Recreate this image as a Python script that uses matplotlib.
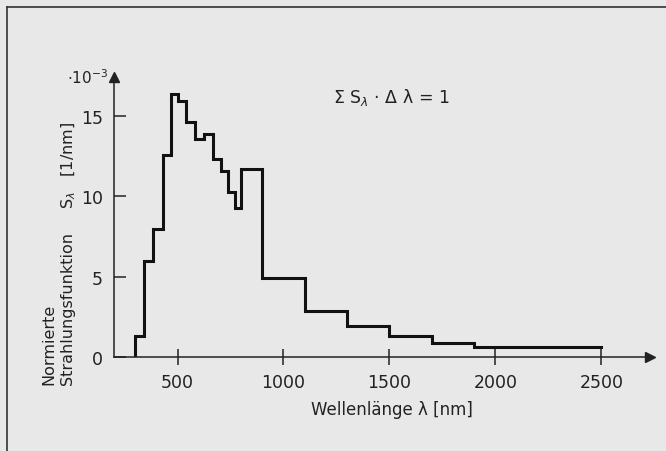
import matplotlib
matplotlib.use("Agg")
import matplotlib.pyplot as plt
from matplotlib.lines import Line2D

# Stufengrenzen (nm) und Werte (10^-3 / nm)
edges = [300, 340, 385, 430, 470, 500, 540, 580, 625, 665, 705, 740, 770, 800,
         900, 1100, 1300, 1500, 1700, 1900, 2500]
values = [1.29, 5.94, 7.93, 12.53, 16.37, 15.89, 14.59, 13.52, 13.88, 12.32,
          11.53, 10.25, 9.25, 11.66, 4.90, 2.88, 1.95, 1.29, 0.87, 0.62]
xticks = [500, 1000, 1500, 2000, 2500]
yticks = [0, 5, 10, 15]

bg = "#e8e8e8"
W, H = 666, 452
plt.rcParams['font.family'] = ['DejaVu Sans']

fig = plt.figure(figsize=(W / 100, H / 100), dpi=100, facecolor=bg)
ax = fig.add_axes([114 / W, (H - 358) / H, 536 / W, 280 / H])
ax.set_facecolor(bg)

xs = [edges[0]] + edges
ys = [0] + values + [values[-1]]
ax.plot(xs, ys, drawstyle="steps-post", color="#111111", lw=2.2,
        solid_joinstyle="miter")

ax.set_xlim(200, 2730)
ax.set_ylim(0, 17.4)
for s in ["top", "right"]:
    ax.spines[s].set_visible(False)
for s in ["left", "bottom"]:
    ax.spines[s].set_linewidth(1.1)
    ax.spines[s].set_color("#222222")

# Pfeile an den Achsenenden
ax.plot(1, 0, ">", transform=ax.transAxes, color="#222222", ms=7, clip_on=False)
ax.plot(0, 1, "^", transform=ax.transAxes, color="#222222", ms=7, clip_on=False)

ax.set_xticks(xticks)
ax.set_yticks(yticks)
ax.tick_params(axis="x", direction="inout", length=11, width=1.1,
               labelsize=12.5, pad=6, colors="#222222")
ax.tick_params(axis="y", direction="in", length=8.5, width=1.1,
               labelsize=12.5, pad=8, colors="#222222")

fig.text(392 / W, 1 - 410 / H, "Wellenlänge λ [nm]", ha="center", va="center",
         fontsize=12, color="#222222")
fig.text(49 / W, 1 - 385 / H, "Normierte", rotation=90, ha="center",
         va="bottom", fontsize=11.5, color="#222222")
fig.text(67 / W, 1 - 385 / H, "Strahlungsfunktion", rotation=90, ha="center",
         va="bottom", fontsize=11.5, color="#222222")
fig.text(69 / W, 1 - 165 / H, r"S$_\lambda$   [1/nm]", rotation=90,
         ha="center", va="center", fontsize=11.5, color="#222222")
fig.text(108 / W, 1 - 78 / H, r"$\cdot$10$^{-3}$", ha="right", va="center",
         fontsize=11, color="#222222")
fig.text(333 / W, 1 - 98 / H, r"Σ S$_\lambda$ · Δ λ = 1", ha="left",
         va="center", fontsize=12.5, color="#222222")

# Rahmen links und oben
fig.add_artist(Line2D([7 / W, 7 / W], [0, 1 - 8 / H], color="#333333", lw=1.2))
fig.add_artist(Line2D([7 / W, 1], [1 - 8 / H, 1 - 8 / H], color="#333333", lw=1.2))

fig.savefig("out.png", dpi=100, facecolor=bg)
